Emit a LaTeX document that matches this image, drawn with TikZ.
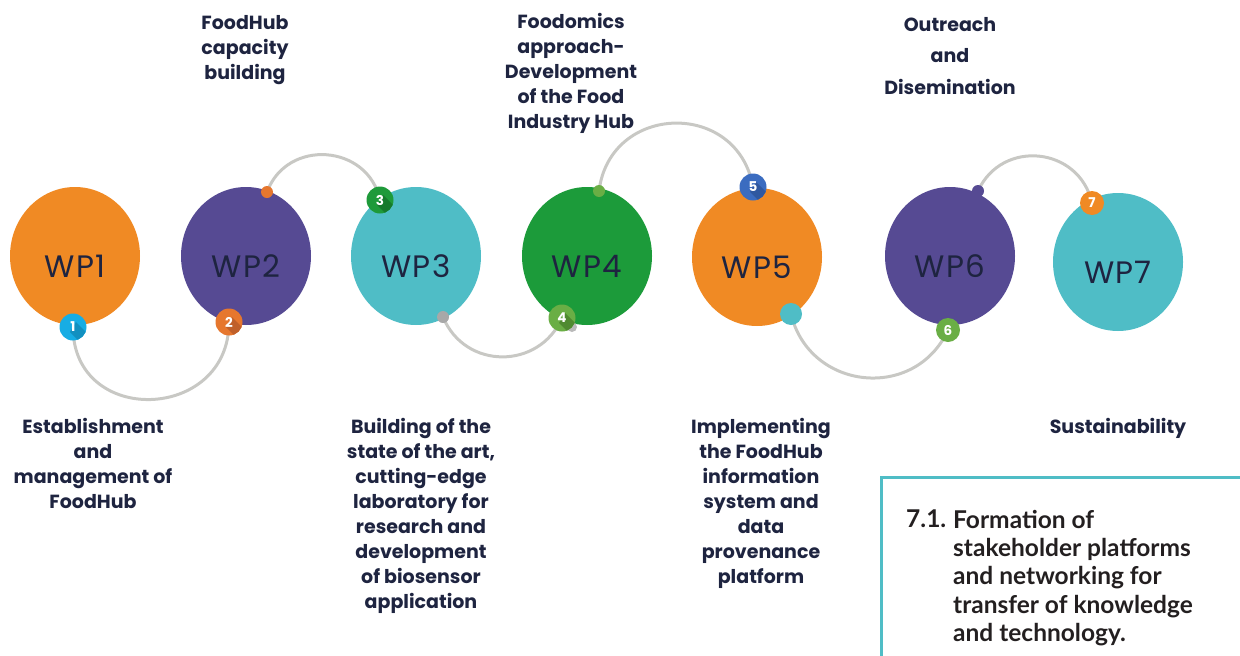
\documentclass[tikz,border=0pt]{standalone}
\usepackage{fontspec}
\setmainfont{Poppins}
\newfontfamily\boxfont{Lato}
\usetikzlibrary{shapes.geometric,backgrounds}

\definecolor{wporange}{HTML}{F08A24}
\definecolor{wppurple}{HTML}{564A93}
\definecolor{wpteal}{HTML}{4FBDC6}
\definecolor{wpgreen}{HTML}{1C9B3A}
\definecolor{navy}{HTML}{1E2440}
\definecolor{linkgrey}{HTML}{C8C8C4}
\definecolor{dotgrey}{HTML}{A8A8A8}
\definecolor{bblue}{HTML}{17ADE4}
\definecolor{bbluedk}{HTML}{1290C0}
\definecolor{borange}{HTML}{E6772E}
\definecolor{borangedk}{HTML}{C0602A}
\definecolor{bgreen}{HTML}{1E9A3A}
\definecolor{bgreendk}{HTML}{167A2C}
\definecolor{blime}{HTML}{6AAE45}
\definecolor{blimedk}{HTML}{4F8A30}
\definecolor{bnavy}{HTML}{3B6CC0}
\definecolor{bnavydk}{HTML}{2F58A0}
\definecolor{inktext}{HTML}{231F20}

% numbered badge with a long diagonal shadow behind the digit
% #1 name, #2 position, #3 fill, #4 shadow colour, #5 digit
\newcommand\wpbadge[5]{%
  \node[badge, fill=#3] (#1) at (#2) {};
  \begin{scope}
    \clip (#1.center) circle[radius=13.5];
    \fill[#4] (#1.center) ++(-3,5) -- ++(6,-10) -- ++(22,22) -- ++(-6,10) -- cycle;
  \end{scope}
  \node[numtext] at (#1.center) {#5};
}

% work package disc with its title set a little below the centre
% #1 name, #2 position, #3 fill, #4 text
\newcommand\wpdisc[4]{%
  \node[wp, fill=#3] (#1) at (#2) {};
  \node[wptext] (#1t) at ([yshift=-10pt]#1.center) {#4};
}

\begin{document}
\begin{tikzpicture}[x=1pt,y=-1pt,
  wp/.style={ellipse, minimum width=130pt, minimum height=138pt, inner sep=0pt},
  wptext/.style={text=navy, inner sep=0pt,
    font=\fontsize{31}{31}\selectfont\addfontfeatures{LetterSpace=4}},
  badge/.style={circle, minimum size=27pt, inner sep=0pt},
  smallbadge/.style={circle, minimum size=24pt, inner sep=0pt},
  dotmark/.style={circle, minimum size=12pt, inner sep=0pt},
  link/.style={draw=linkgrey, line width=3pt},
  lbl/.style={align=center, text=navy, inner sep=0pt, anchor=north,
    font=\bfseries\fontsize{19}{25}\selectfont},
  numtext/.style={text=white, inner sep=0pt, font=\bfseries\fontsize{13.5}{13.5}\selectfont},
  boxtext/.style={text=inktext, inner sep=0pt, align=left,
    font=\boxfont\bfseries\fontsize{24.5}{28.2}\selectfont}
]
\useasboundingbox (0,0) rectangle (1240,656);

% work package discs
\wpdisc{wp1}{75,256}{wporange}{WP1}
\wpdisc{wp2}{246,256}{wppurple}{WP2}
\wpdisc{wp3}{416,256}{wpteal}{WP3}
\wpdisc{wp4}{587,256}{wpgreen}{WP4}
\wpdisc{wp5}{757,257}{wporange}{WP5}
\wpdisc{wp6}{950,256}{wppurple}{WP6}
\wpdisc{wp7}{1118,262}{wpteal}{WP7}

% link end points
\node[dotmark, fill=borange] (d2) at (267,192) {};
\node[dotmark, fill=dotgrey] (d3) at (443,317) {};
\node[circle, minimum size=10pt, inner sep=0pt, fill=dotgrey!80] (d4b) at (572,327) {};
\node[dotmark, fill=blime] (d4) at (599,191) {};
\node[circle, minimum size=22pt, inner sep=0pt, fill=wpteal] (d5) at (791,314) {};
\node[dotmark, fill=wppurple] (d6) at (978,191) {};

% numbered badges
\wpbadge{b1}{73,327}{bblue}{bbluedk}{1}
\wpbadge{b2}{229,322}{borange}{borangedk}{2}
\wpbadge{b3}{380,200}{bgreen}{bgreendk}{3}
\wpbadge{b4}{562,318}{blime}{blimedk}{4}
\wpbadge{b5}{753,187}{bnavy}{bnavydk}{5}
\node[smallbadge, fill=blime] (b6) at (948,330) {};
\node[numtext] at (b6.center) {6};
\node[smallbadge, fill=wporange] (b7) at (1092,203) {};
\node[numtext] at (b7.center) {7};

% grey links between the packages
\begin{scope}[on background layer]
\draw[link] (b1.center) .. controls +(0,100) and +(0,100) .. (b2.center);
\draw[link] (d2.center) .. controls +(20,-54) and +(-12,-56) .. (b3.center);
\draw[link] (d3.center) .. controls +(22,53) and +(-23,52) .. (b4.center);
\draw[link] (d4.center) .. controls +(11,-88) and +(-15.5,-87.7) .. (b5.center);
\draw[link] (d5.center) .. controls +(18.5,76.6) and +(-32.9,71.6) .. (b6.center);
\draw[link] (d6.center) .. controls +(24,-52.5) and +(-12.7,-56.4) .. (b7.center);
\end{scope}

% package titles
\node[lbl] (t1) at (93,418) {Establishment\\and\\management of\\FoodHub};
\node[lbl] (t2) at (245,15) {FoodHub\\capacity\\building};
\node[lbl] (t3) at (421,418) {Building of the\\state of the art,\\cutting-edge\\laboratory for\\research and\\development\\of biosensor\\application};
\node[lbl] (t4) at (571,13) {Foodomics\\approach-\\Development\\of the Food\\Industry Hub};
\node[lbl] (t5) at (761,418) {Implementing\\the FoodHub\\information\\system and\\data\\provenance\\platform};
\node[lbl, font=\bfseries\fontsize{19}{31.5}\selectfont] (t6) at (950,17) {Outreach\\and\\Disemination};
\node[lbl] (t7) at (1118,418) {Sustainability};

% task box
\draw[wpteal, line width=3pt] (881,660) -- (881,477) -- (1245,477);
\node[boxtext, anchor=north west] (k1) at (906,510) {7.1.};
\node[boxtext, anchor=north west] (k2) at (953,510) {Formation of\\stakeholder platforms\\and networking for\\transfer of knowledge\\and technology.};
\end{tikzpicture}
\end{document}
